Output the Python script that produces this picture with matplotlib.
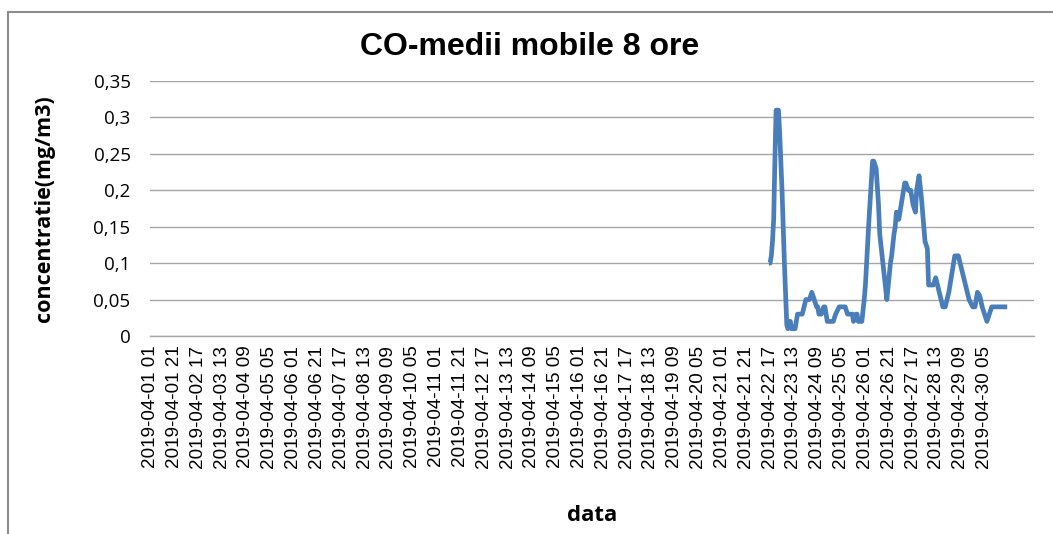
"""
CO - 8 hour moving averages, April 2019 (hourly categories, Excel-style line chart).
"""
import numpy as np
import pandas as pd
import matplotlib.pyplot as plt
from matplotlib.patches import Rectangle

# hourly category axis: 2019-04-01 01 ... (one category per hour)
START = "2019-04-01 01:00"
N_HOURS = 720
TICK_EVERY = 20

# readings (hour offset from START, mg/m3); no data before 2019-04-22
hour_idx = [519, 520, 521, 522, 523, 524, 525, 527, 528, 530, 532, 534, 535,
            536, 537, 538, 541, 543, 547, 550, 553, 555, 557, 559, 560, 561,
            563, 565, 566, 568, 573, 575, 578, 583, 585, 589, 590, 592, 593,
            594, 597, 599, 600, 603, 606, 607, 609, 611, 612, 614, 616, 618,
            621, 622, 624, 625, 626, 628, 631, 633, 634, 636, 638, 640, 642,
            643, 645, 647, 650, 652, 653, 657, 659, 662, 665, 667, 670, 673,
            675, 678, 681, 684, 687, 690, 692, 694, 696, 698, 700, 702, 705,
            706, 719]
co_vals = [0.10, 0.10, 0.11, 0.13, 0.16, 0.24, 0.31, 0.31, 0.28, 0.20, 0.10,
           0.015, 0.01, 0.02, 0.02, 0.01, 0.01, 0.03, 0.03, 0.05, 0.05, 0.06,
           0.05, 0.04, 0.04, 0.03, 0.03, 0.04, 0.04, 0.02, 0.02, 0.03, 0.04,
           0.04, 0.03, 0.03, 0.02, 0.03, 0.03, 0.02, 0.02, 0.05, 0.07, 0.16,
           0.24, 0.24, 0.23, 0.18, 0.14, 0.11, 0.08, 0.05, 0.10, 0.11, 0.14,
           0.15, 0.17, 0.16, 0.19, 0.21, 0.21, 0.20, 0.20, 0.18, 0.17, 0.20,
           0.22, 0.19, 0.13, 0.12, 0.07, 0.07, 0.08, 0.06, 0.04, 0.04, 0.06,
           0.09, 0.11, 0.11, 0.09, 0.07, 0.05, 0.04, 0.04, 0.06, 0.055, 0.04,
           0.03, 0.02, 0.035, 0.04, 0.04]

y_ticks = [0, 0.05, 0.1, 0.15, 0.2, 0.25, 0.3, 0.35]
y_ticklabels = ["0", "0,05", "0,1", "0,15", "0,2", "0,25", "0,3", "0,35"]

LINE_COLOR = "#4a7ebb"
GRID_COLOR = "#a6a6a6"


def main():
    hours = pd.date_range(START, periods=N_HOURS, freq="h")
    tick_pos = np.arange(0, N_HOURS, TICK_EVERY)
    tick_lab = [hours[i].strftime("%Y-%m-%d %H") for i in tick_pos]

    fig = plt.figure(figsize=(10.53, 5.34), dpi=100)
    ax = fig.add_axes([150 / 1053, 198 / 534, 884 / 1053, 255 / 534])

    ax.plot(hour_idx, co_vals, color=LINE_COLOR, linewidth=3.4,
            solid_joinstyle="round", solid_capstyle="butt")

    ax.set_xlim(-0.5, 741.5)
    ax.set_ylim(0, 0.35)
    ax.set_yticks(y_ticks)
    ax.set_yticklabels(y_ticklabels, family="Open Sans", fontsize=13.5)
    ax.set_xticks(tick_pos)
    ax.set_xticklabels(tick_lab, rotation=90, family="Liberation Sans",
                       fontsize=13.6)
    ax.tick_params(axis="both", length=0)
    ax.tick_params(axis="y", pad=14)
    ax.tick_params(axis="x", pad=7)

    ax.grid(axis="y", color=GRID_COLOR, linewidth=1.0)
    ax.set_axisbelow(True)
    for side in ("top", "right", "left"):
        ax.spines[side].set_visible(False)
    ax.spines["bottom"].set_color(GRID_COLOR)
    ax.spines["bottom"].set_linewidth(1.0)

    ax.set_ylabel("concentratie(mg/m3)", family="Open Sans",
                  fontweight="bold", fontsize=15.5, labelpad=28)
    ax.set_xlabel("data", family="Open Sans", fontweight="bold",
                  fontsize=16, labelpad=26)

    fig.text(530 / 1053, 1 - 47 / 534, "CO-medii mobile 8 ore",
             family="Liberation Sans", fontweight="bold", fontsize=23,
             ha="center", va="center")

    # chart-area frame (only left and top edges fall inside the picture)
    fig.patches.append(Rectangle((8 / 1053, -0.1), 1.2, 1.1 - 12 / 534,
                                 transform=fig.transFigure, fill=False,
                                 edgecolor="#8c8c8c", linewidth=1.5))

    fig.savefig("out.png", dpi=100)
    plt.close(fig)


if __name__ == "__main__":
    main()
